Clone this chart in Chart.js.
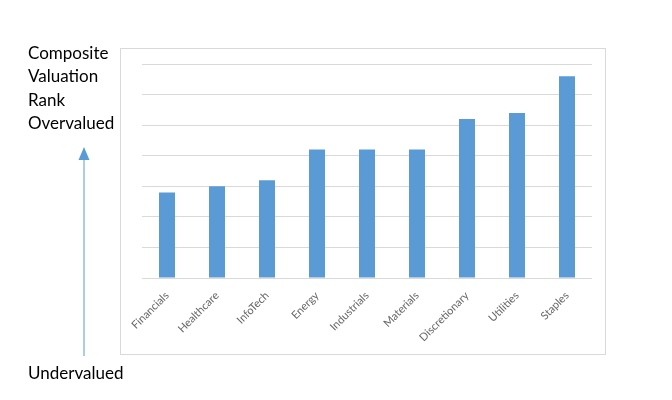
<!DOCTYPE html>
<html>
<head>
<meta charset="utf-8">
<script src="https://cdn.jsdelivr.net/npm/chart.js@4"></script>
<style>
  html, body { margin: 0; padding: 0; background: #fff; }
  #wrap { position: relative; width: 672px; height: 400px; overflow: hidden; font-family: Lato, "Open Sans", sans-serif; }
  #frame { position: absolute; left: 120px; top: 48px; width: 486px; height: 307px; border: 1px solid #d9d9d9; box-sizing: border-box; }
  #chartCanvas { position: absolute; left: 0; top: 0; }
  .lbl { position: absolute; left: 28px; font-size: 17px; color: #000; line-height: 23.3px; }
  #arrow { position: absolute; left: 0; top: 0; }
</style>
</head>
<body>
<div id="wrap">
  <div id="frame"></div>
  <canvas id="chartCanvas" width="672" height="400"></canvas>
  <div class="lbl" style="top:41px">Composite<br>Valuation<br>Rank<br>Overvalued</div>
  <div class="lbl" style="top:361px">Undervalued</div>
  <svg id="arrow" width="672" height="400">
    <line x1="84" y1="158" x2="84" y2="356" stroke="#5b9bd5" stroke-width="1"/>
    <polygon points="84,147 78.5,160 89.5,160" fill="#5b9bd5"/>
  </svg>
</div>
<script>
const sectors = ["Financials", "Healthcare", "InfoTech", "Energy", "Industrials", "Materials", "Discretionary", "Utilities", "Staples"];
const rankValues = [2.8, 3.0, 3.2, 4.2, 4.2, 4.2, 5.2, 5.4, 6.6];

const ctx = document.getElementById("chartCanvas").getContext("2d");
const chart = new Chart(ctx, {
    type: "bar",
    data: {
        labels: sectors,
        datasets: [
            {
                label: "Composite Valuation Rank",
                data: rankValues,
                backgroundColor: "#5b9bd5",
                borderWidth: 0,
                barPercentage: 0.32,
                categoryPercentage: 1.0,
            },
        ],
    },
    options: {
        responsive: false,
        animation: false,
        layout: { padding: { left: 142, right: 80, top: 64, bottom: 0 } },
        plugins: {
            legend: { display: false },
            tooltip: { enabled: false },
        },
        scales: {
            x: {
                grid: { display: false },
                border: { display: false },
                ticks: {
                    minRotation: 45,
                    maxRotation: 45,
                    color: "#666666",
                    font: { family: "Lato", size: 11 },
                    padding: 3,
                },
                afterFit: axis => { axis.height = 122; },
            },
            y: {
                min: 0,
                max: 7,
                ticks: { display: false, stepSize: 1 },
                grid: { color: "#d9d9d9", lineWidth: 1, drawTicks: false },
                border: { display: false },
                afterFit: axis => { axis.width = 0; },
            },
        },
    },
});
</script>
</body>
</html>
